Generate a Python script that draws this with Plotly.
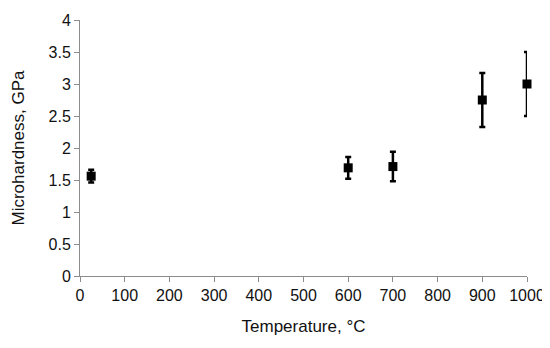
import plotly.graph_objects as go

temperature = [25, 600, 700, 900, 1000]
hardness = [1.56, 1.69, 1.71, 2.75, 3.0]
hardness_err = [0.10, 0.17, 0.23, 0.42, 0.50]

AX = '#8c8c8c'
FONT = 'Liberation Sans, Arial, sans-serif'

fig = go.Figure(go.Scatter(
    x=temperature, y=hardness,
    mode='markers',
    marker=dict(symbol='square', size=9, color='#000000'),
    error_y=dict(type='data', array=hardness_err, visible=True,
                 color='#000000', thickness=2.5, width=3),
    cliponaxis=False,
))

# page body keeps its default 8px margin, so the figure is sized to fit inside it
fig.update_layout(
    width=542, height=340,
    paper_bgcolor='#ffffff', plot_bgcolor='#ffffff',
    margin=dict(l=72, r=23, t=12, b=72),
    font=dict(family=FONT, color='#111111', size=16),
    showlegend=False,
)
fig.update_xaxes(
    range=[0, 1000], dtick=100, tick0=0, automargin=False,
    ticklabeloverflow='allow',
    showgrid=False, zeroline=False,
    showline=True, linecolor=AX, linewidth=1,
    ticks='outside', ticklen=5, tickcolor=AX,
    tickfont=dict(size=16),
    title=dict(text='Temperature, °C', font=dict(size=17), standoff=16),
)
fig.update_yaxes(
    range=[0, 4], dtick=0.5, tick0=0, automargin=False,
    showgrid=False, zeroline=False,
    showline=True, linecolor=AX, linewidth=1,
    ticks='outside', ticklen=5, tickcolor=AX,
    tickfont=dict(size=16),
    title=dict(text='Microhardness, GPa', font=dict(size=17), standoff=19),
)

fig.write_html('out.html')
